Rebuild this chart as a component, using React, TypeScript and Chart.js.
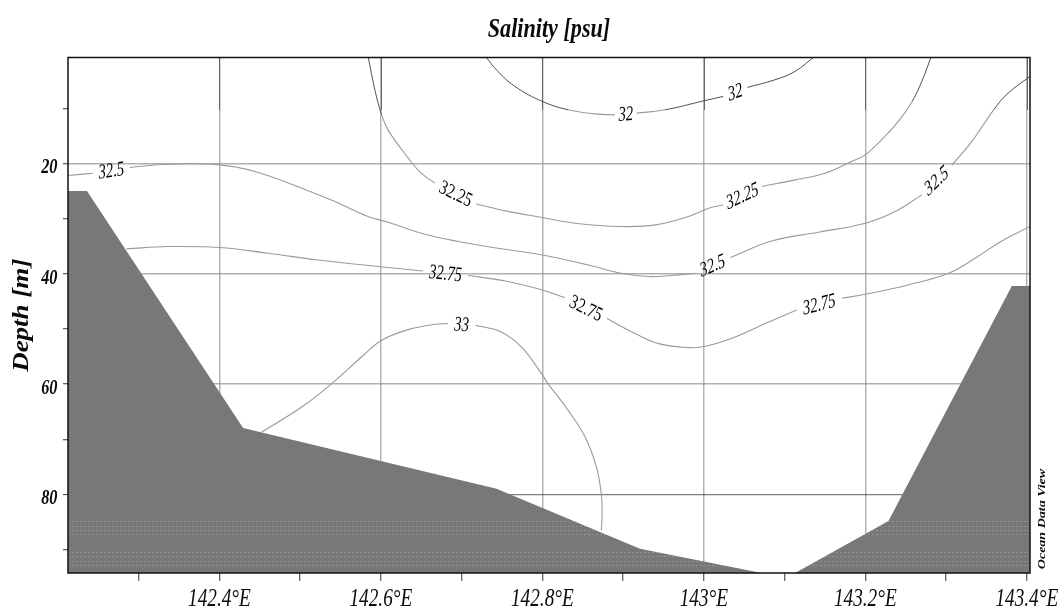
import React, { useEffect, useRef } from "react";
import { Chart, registerables } from "chart.js";

Chart.register(...registerables);

// ---------- axis ranges ----------
const LON_MIN = 142.2125;
const LON_MAX = 143.404;
const DEPTH_MIN = 0.8;
const DEPTH_MAX = 94.2;

// ---------- ticks ----------
const lonMajor = [142.4, 142.6, 142.8, 143.0, 143.2, 143.4];
const lonLabels = ["142.4°E", "142.6°E", "142.8°E", "143°E", "143.2°E", "143.4°E"];
const lonMinor = [142.3, 142.5, 142.7, 142.9, 143.1, 143.3];
const depthMajor = [20, 40, 60, 80];
const depthLabels = ["20", "40", "60", "80"];
const depthMinor = [10, 30, 50, 70, 90];

// ---------- bathymetry (lon, depth) ----------
const bathyLon = [142.2125, 142.236, 142.4294, 142.7433, 142.921, 143.0717, 143.113, 143.2287, 143.3815, 143.404];
const bathyDepth = [25.0, 25.0, 67.94, 78.93, 89.81, 94.2, 94.2, 84.8, 42.19, 42.19];

// ---------- contour lines: segments of [lon, depth]; a label sits in each gap ----------
const contourLevels = ["32", "32.25", "32.5", "32.75", "33"];

const contour32 = [
  [[142.729, 0.5], [142.745, 3.32], [142.766, 6.04], [142.8, 8.76], [142.832, 10.28], [142.865, 11.01], [142.89, 11.19]],
  [[142.917, 10.88], [142.952, 10.28], [143.0, 8.65], [143.024, 7.85]],
  [[143.054, 6.22], [143.088, 4.84], [143.113, 3.32], [143.138, 0.5]],
];

const contour3225 = [
  [[142.584, 0.5], [142.593, 6.94], [142.601, 11.19], [142.609, 13.96], [142.634, 19.04], [142.65, 21.76], [142.667, 23.57]],
  [[142.718, 27.33], [142.754, 28.59], [142.8, 29.79], [142.84, 30.82], [142.898, 31.42], [142.94, 31.13], [142.981, 29.61], [143.006, 28.1], [143.024, 27.51]],
  [[143.072, 24.17], [143.113, 22.97], [143.15, 21.76], [143.183, 19.64], [143.2, 18.44], [143.22, 15.72], [143.241, 12.38], [143.258, 8.76], [143.27, 5.13], [143.282, 0.5]],
];

const contour325 = [
  [[142.2125, 22.18], [142.2435, 21.76]],
  [[142.289, 20.73], [142.336, 20.13], [142.4, 20.25], [142.444, 21.45], [142.502, 24.48], [142.543, 26.89], [142.584, 29.61], [142.609, 30.64], [142.65, 32.64], [142.696, 34.14], [142.745, 35.36], [142.8, 36.57], [142.857, 38.39], [142.898, 39.89], [142.931, 40.49], [142.96, 40.31], [142.989, 39.89]],
  [[143.033, 37.04], [143.084, 34.03], [143.142, 32.46], [143.2, 30.82], [143.237, 28.7], [143.27, 25.69]],
  [[143.307, 20.36], [143.332, 16.01], [143.359, 10.28], [143.377, 7.25], [143.404, 4.23]],
];

const contour3275 = [
  [[142.285, 35.48], [142.336, 35.05], [142.4, 35.23], [142.46, 36.26], [142.522, 37.48], [142.609, 38.86], [142.652, 39.47]],
  [[142.708, 40.31], [142.754, 41.29], [142.8, 42.92], [142.828, 44.3]],
  [[142.88, 48.1], [142.915, 50.82], [142.944, 52.64], [142.981, 53.36], [143.002, 53.13], [143.039, 51.44], [143.076, 49.01], [143.115, 46.55]],
  [[143.171, 44.42], [143.2, 43.7], [143.253, 42.01], [143.303, 39.89], [143.336, 37.17], [143.369, 34.03], [143.404, 31.42]],
];

const contour33 = [
  [[142.452, 68.7], [142.502, 64.13], [142.539, 59.89], [142.576, 55.07], [142.601, 52.04], [142.634, 50.1], [142.667, 49.14], [142.683, 49.01]],
  [[142.717, 49.32], [142.749, 50.53], [142.774, 53.25], [142.799, 58.08], [142.807, 59.89], [142.832, 64.73], [142.853, 69.57], [142.867, 75.01], [142.873, 79.84], [142.874, 83.46], [142.873, 86.49]],
];

const contours = [contour32, contour3225, contour325, contour3275, contour33];

// faint dotted rows inside the seabed fill
const hatchDepths = [84.8, 85.6, 86.4, 87.2, 90.4, 91.2, 92.0, 92.8];

const TITLE = "Salinity [psu]";
const Y_TITLE = "Depth [m]";
const CREDIT = "Ocean Data View";

const SERIF = '"Liberation Serif", "Times New Roman", serif';
const DARK_DEPTH = 10.3;

function drawText(
  ctx: CanvasRenderingContext2D,
  text: string,
  x: number,
  y: number,
  font: string,
  align: CanvasTextAlign,
  baseline: CanvasTextBaseline,
  angle: number,
  sx: number,
  color = "#0a0a0a"
) {
  ctx.save();
  ctx.translate(x, y);
  ctx.scale(sx, 1);
  ctx.rotate(angle);
  ctx.font = font;
  ctx.textAlign = align;
  ctx.textBaseline = baseline;
  ctx.fillStyle = color;
  ctx.fillText(text, 0, 0);
  ctx.restore();
}

const overlayPlugin = {
  id: "odvOverlay",
  afterDatasetsDraw(chart: any) {
    const { ctx, chartArea: a, scales } = chart;
    const ys = scales.y;
    ctx.save();
    ctx.beginPath();
    ctx.rect(a.left, a.top, a.right - a.left, a.bottom - a.top);
    ctx.clip();
    ctx.strokeStyle = "rgba(255,255,255,0.2)";
    ctx.lineWidth = 1;
    ctx.setLineDash([2, 2]);
    for (const d of hatchDepths) {
      const py = Math.round(ys.getPixelForValue(d)) + 0.5;
      ctx.beginPath();
      ctx.moveTo(a.left, py);
      ctx.lineTo(a.right, py);
      ctx.stroke();
    }
    ctx.restore();
  },
  afterDraw(chart: any) {
    const { ctx, chartArea: a, scales } = chart;
    const xs = scales.x;
    const ys = scales.y;

    // darker upper part of the vertical grid
    ctx.save();
    ctx.strokeStyle = "#5a5a5a";
    ctx.lineWidth = 0.9;
    const yDark = ys.getPixelForValue(DARK_DEPTH);
    for (const v of lonMajor) {
      const px = Math.round(xs.getPixelForValue(v)) + 0.5;
      ctx.beginPath();
      ctx.moveTo(px, a.top);
      ctx.lineTo(px, yDark);
      ctx.stroke();
    }
    // frame
    ctx.strokeStyle = "#111";
    ctx.lineWidth = 1.5;
    ctx.strokeRect(a.left, a.top, a.right - a.left, a.bottom - a.top);
    ctx.restore();

    // contour labels in the gaps
    const sxL = 0.7;
    contours.forEach((segs, ci) => {
      for (let i = 0; i < segs.length - 1; i++) {
        const p = segs[i][segs[i].length - 1];
        const q = segs[i + 1][0];
        const x1 = xs.getPixelForValue(p[0]);
        const y1 = ys.getPixelForValue(p[1]);
        const x2 = xs.getPixelForValue(q[0]);
        const y2 = ys.getPixelForValue(q[1]);
        let dx = x2 - x1;
        let dy = y2 - y1;
        if (dx < 0) {
          dx = -dx;
          dy = -dy;
        }
        const ang = Math.atan2(dy, dx / sxL);
        drawText(ctx, contourLevels[ci], (x1 + x2) / 2, (y1 + y2) / 2 + 1, `italic 21px ${SERIF}`, "center", "middle", ang, sxL, "#000");
      }
    });

    // x tick labels
    lonMajor.forEach((v, i) => {
      drawText(ctx, lonLabels[i], xs.getPixelForValue(v), 606, `italic 26px ${SERIF}`, "center", "alphabetic", 0, 0.74);
    });
    // y tick labels
    depthMajor.forEach((v, i) => {
      drawText(ctx, depthLabels[i], 57.5, ys.getPixelForValue(v) + 9.8, `italic bold 22px ${SERIF}`, "right", "alphabetic", 0, 0.74);
    });
    // titles
    drawText(ctx, TITLE, (a.left + a.right) / 2, 37, `italic bold 27px ${SERIF}`, "center", "alphabetic", 0, 0.82);
    drawText(ctx, Y_TITLE, 22.5, (a.top + a.bottom) / 2, `italic bold 27px ${SERIF}`, "center", "middle", -Math.PI / 2, 0.82);
    drawText(ctx, CREDIT, 1042, 519, `italic bold 14px ${SERIF}`, "center", "middle", -Math.PI / 2, 0.8);
  },
};

export default function App() {
  const canvasRef = useRef<HTMLCanvasElement | null>(null);

  useEffect(() => {
    document.body.style.margin = "0";
    const canvas = canvasRef.current;
    if (!canvas) return;

    const toPts = (seg: number[][]) => seg.map(([x, y]) => ({ x, y }));

    const contourDatasets: any[] = [];
    contours.forEach((segs, ci) => {
      segs.forEach((seg, si) => {
        contourDatasets.push({
          label: `${contourLevels[ci]}#${si}`,
          data: toPts(seg),
          showLine: true,
          pointRadius: 0,
          borderWidth: 1.1,
          borderColor: "#9a9a9a",
          tension: 0.4,
          fill: false,
          order: 1,
          segment: {
            borderColor: (c: any) => ((c.p0.parsed.y + c.p1.parsed.y) / 2 < DARK_DEPTH ? "#3c3c3c" : "#9a9a9a"),
            borderWidth: (c: any) => ((c.p0.parsed.y + c.p1.parsed.y) / 2 < DARK_DEPTH ? 0.9 : 1.1),
          },
        });
      });
    });

    const bathyDataset = {
      label: "seabed",
      data: bathyLon.map((x, i) => ({ x, y: bathyDepth[i] })),
      showLine: true,
      pointRadius: 0,
      borderWidth: 0,
      borderColor: "#787878",
      backgroundColor: "#787878",
      tension: 0,
      fill: { value: DEPTH_MAX },
      order: 2,
    };

    const isMajorLon = (v: number) => lonMajor.some((m) => Math.abs(m - v) < 1e-6);

    const chart = new Chart(canvas, {
      type: "scatter",
      data: { datasets: [bathyDataset, ...contourDatasets] },
      plugins: [overlayPlugin],
      options: {
        responsive: false,
        maintainAspectRatio: false,
        animation: false,
        devicePixelRatio: 1,
        layout: { padding: { top: 57.5, right: 33, bottom: 0, left: 0 } },
        plugins: {
          legend: { display: false },
          title: { display: false },
          tooltip: { enabled: false },
        },
        scales: {
          x: {
            type: "linear",
            position: "bottom",
            min: LON_MIN,
            max: LON_MAX,
            z: 1,
            afterBuildTicks: (s: any) => {
              s.ticks = [...lonMinor, ...lonMajor].sort((p, q) => p - q).map((value) => ({ value }));
            },
            afterFit: (s: any) => {
              s.height = 39;
            },
            ticks: { display: false },
            border: { display: false },
            grid: {
              color: (c: any) => (isMajorLon(c.tick.value) ? "rgba(150,150,150,0.72)" : "rgba(0,0,0,0)"),
              lineWidth: 1.5,
              drawTicks: true,
              tickLength: 8,
              tickColor: "#333",
              tickWidth: 1,
            },
          },
          y: {
            type: "linear",
            position: "left",
            reverse: true,
            min: DEPTH_MIN,
            max: DEPTH_MAX,
            z: 1,
            afterBuildTicks: (s: any) => {
              s.ticks = [...depthMinor, ...depthMajor].sort((p, q) => p - q).map((value) => ({ value }));
            },
            afterFit: (s: any) => {
              s.width = 68;
            },
            ticks: { display: false },
            border: { display: false },
            grid: {
              color: (c: any) =>
                depthMajor.includes(c.tick.value)
                  ? c.tick.value === 80
                    ? "rgba(0,0,0,0.5)"
                    : "rgba(150,150,150,0.75)"
                  : "rgba(0,0,0,0)",
              lineWidth: (c: any) => (c.tick.value === 80 ? 1.2 : 1.5),
              drawTicks: true,
              tickLength: 5,
              tickColor: "#333",
              tickWidth: 1,
            },
          },
        },
      },
    });

    return () => {
      chart.destroy();
    };
  }, []);

  return (
    <div style={{ position: "absolute", left: 0, top: 0, width: 1063, height: 612, background: "#fff" }}>
      <canvas ref={canvasRef} width={1063} height={612} style={{ display: "block", width: 1063, height: 612 }} />
    </div>
  );
}
